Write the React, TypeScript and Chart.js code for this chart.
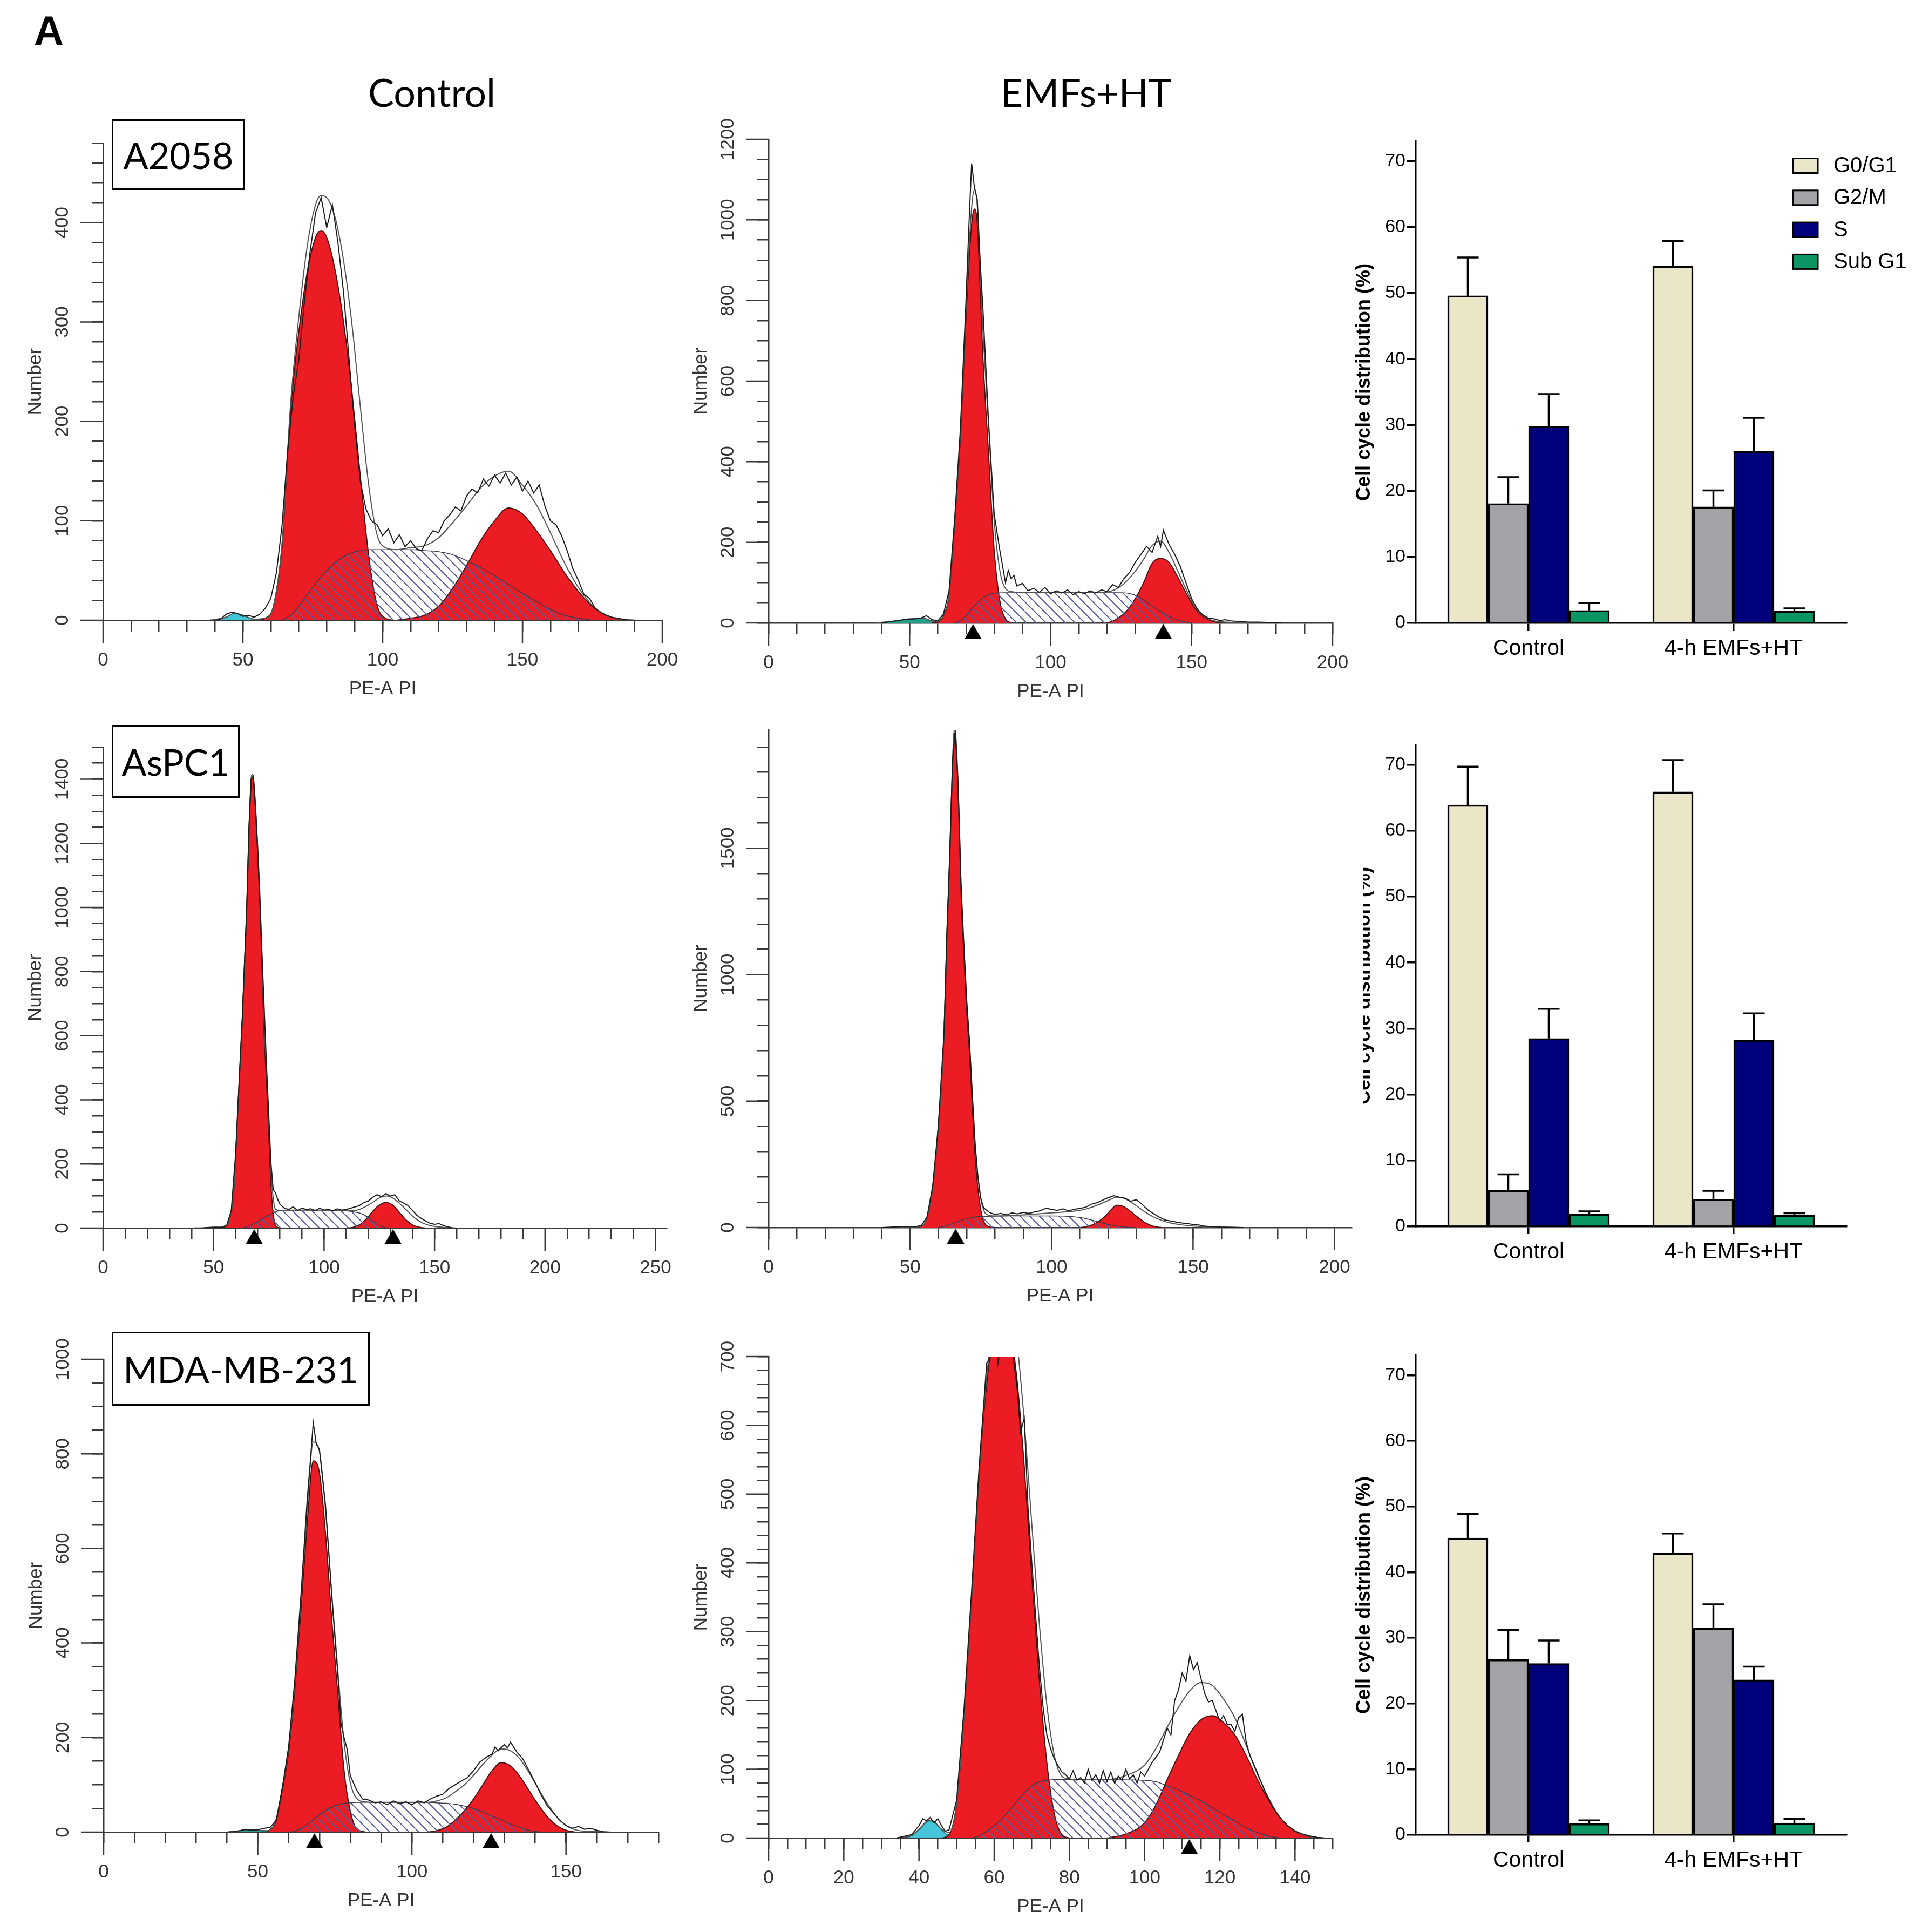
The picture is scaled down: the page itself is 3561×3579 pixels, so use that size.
import { useEffect, useRef } from 'react';
import { Chart, registerables } from 'chart.js';

Chart.register(...registerables);

// ---------- flow cytometry histograms (PE-A PI vs Number), [x, count] ----------

// A2058, control
const a2058CtrlDebris = [[40, 0], [44, 3], [47, 7], [50, 5], [54, 1], [57, 0]];
const a2058CtrlG1 = [[55, 0], [58, 2], [61, 15], [64, 75], [67, 210], [70, 290], [73, 350], [76, 385], [78, 392], [80, 385], [83, 352], [86, 300], [89, 230], [92, 145], [95, 65], [98, 15], [101, 2], [104, 0]];
const a2058CtrlS = [[64, 0], [67, 5], [70, 14], [73, 26], [76, 37], [78, 44], [80, 50], [83, 58], [86, 64], [89, 68], [92, 70], [95, 71], [100, 71], [105, 71], [110, 71], [115, 70], [120, 69], [125, 66], [130, 60], [135, 53], [140, 45], [145, 36], [150, 27], [155, 19], [160, 11], [165, 5], [170, 2], [175, 0]];
const a2058CtrlG2 = [[105, 0], [110, 2], [115, 5], [120, 14], [125, 32], [130, 55], [135, 80], [140, 100], [145, 113], [150, 107], [155, 90], [160, 70], [165, 48], [170, 29], [175, 14], [180, 5], [185, 1], [190, 0]];
const a2058CtrlFit = [[38, 0], [44, 3], [47, 7], [50, 5], [54, 1], [58, 2], [61, 15], [64, 77], [67, 215], [70, 305], [73, 376], [76, 418], [78, 427], [80, 425], [83, 405], [86, 362], [89, 298], [92, 215], [95, 136], [98, 86], [101, 73], [105, 71], [110, 73], [115, 75], [120, 83], [125, 98], [130, 115], [135, 133], [140, 145], [145, 150], [150, 136], [155, 116], [160, 88], [165, 58], [170, 33], [175, 15], [180, 5], [185, 1], [192, 0]];
const a2058CtrlRaw = [[40, 0], [42, 1], [44, 6], [46, 8], [48, 7], [50, 4], [52, 5], [54, 3], [56, 6], [58, 12], [60, 22], [62, 48], [64, 95], [66, 170], [68, 225], [70, 262], [72, 320], [74, 370], [76, 410], [78, 425], [80, 395], [82, 418], [84, 380], [86, 330], [88, 262], [90, 195], [92, 140], [94, 112], [96, 100], [98, 96], [100, 85], [102, 92], [104, 78], [106, 86], [108, 74], [110, 80], [112, 72], [114, 70], [116, 82], [118, 90], [120, 88], [122, 100], [124, 106], [126, 114], [128, 110], [130, 125], [132, 132], [134, 128], [136, 142], [138, 135], [140, 146], [142, 138], [144, 148], [146, 136], [148, 144], [150, 130], [152, 140], [154, 128], [156, 136], [158, 115], [160, 100], [162, 96], [164, 85], [166, 70], [168, 52], [170, 40], [172, 26], [174, 22], [176, 12], [178, 8], [180, 5], [182, 3], [184, 2], [186, 1], [188, 0], [190, 0]];
const a2058CtrlMarks: number[] = [];

// A2058, EMFs+HT
const a2058EmfDebris = [[40, 0], [45, 5], [50, 10], [55, 11], [58, 5], [61, 0]];
const a2058EmfG1 = [[58, 0], [60, 2], [62, 18], [64, 70], [66, 250], [68, 460], [70, 760], [72, 990], [73, 1027], [74, 990], [76, 660], [78, 420], [80, 180], [82, 55], [84, 10], [86, 0]];
const a2058EmfS = [[66, 0], [68, 5], [70, 18], [72, 35], [74, 50], [76, 62], [78, 70], [80, 74], [84, 75], [90, 75], [100, 75], [110, 75], [120, 75], [125, 75], [128, 73], [131, 66], [134, 52], [137, 37], [140, 24], [143, 13], [146, 5], [150, 0]];
const a2058EmfG2 = [[118, 0], [121, 2], [124, 12], [127, 30], [130, 60], [133, 100], [136, 148], [139, 160], [142, 150], [145, 115], [148, 75], [151, 38], [154, 16], [157, 5], [160, 0]];
const a2058EmfFit = [[38, 0], [45, 5], [50, 10], [55, 11], [58, 5], [60, 4], [62, 20], [64, 72], [66, 255], [68, 470], [70, 780], [72, 1030], [73, 1075], [74, 1035], [76, 725], [78, 490], [80, 255], [82, 130], [84, 85], [86, 78], [88, 76], [90, 75], [100, 75], [110, 75], [118, 76], [121, 78], [124, 87], [127, 104], [130, 128], [133, 158], [136, 192], [139, 203], [142, 175], [145, 130], [148, 84], [151, 42], [154, 18], [157, 7], [160, 3], [170, 1], [180, 0]];
const a2058EmfRaw = [[40, 0], [42, 2], [44, 4], [46, 6], [48, 8], [50, 9], [52, 10], [54, 12], [56, 18], [58, 8], [60, 5], [62, 22], [64, 80], [66, 260], [68, 480], [70, 800], [71, 980], [72, 1140], [73, 1080], [74, 1050], [75, 900], [76, 780], [78, 500], [80, 270], [82, 180], [84, 100], [85, 130], [86, 110], [87, 118], [88, 92], [90, 98], [92, 80], [94, 86], [96, 76], [98, 88], [100, 72], [102, 80], [104, 74], [106, 82], [108, 70], [110, 78], [112, 72], [114, 80], [116, 74], [118, 82], [120, 78], [122, 95], [124, 88], [126, 110], [128, 125], [130, 150], [132, 170], [134, 190], [136, 175], [138, 215], [139, 190], [140, 230], [142, 195], [144, 170], [146, 140], [148, 100], [150, 60], [152, 35], [154, 20], [156, 12], [158, 10], [160, 6], [162, 8], [164, 5], [166, 4], [168, 3], [170, 2], [174, 2], [178, 1], [182, 0]];
const a2058EmfMarks = [72.5, 140];

// AsPC1, control
const aspcCtrlG1 = [[53, 0], [56, 8], [58, 50], [59, 99], [60, 230], [61, 370], [62, 510], [63, 650], [64, 820], [65, 990], [66, 1230], [67, 1390], [67.5, 1406], [68, 1395], [69, 1300], [70, 1160], [71, 1010], [72, 800], [73, 590], [74, 450], [75, 290], [76, 130], [77, 45], [78, 8], [80, 0]];
const aspcCtrlS = [[63, 0], [66, 7], [70, 20], [74, 37], [78, 51], [80, 54], [84, 56], [90, 56], [100, 56], [110, 54], [113, 51], [116, 47], [119, 38], [122, 22], [125, 8], [128, 1], [131, 0]];
const aspcCtrlG2 = [[110, 0], [113, 2], [116, 10], [119, 28], [122, 52], [125, 72], [128, 80], [131, 72], [134, 50], [137, 26], [140, 10], [143, 3], [146, 0]];
const aspcCtrlFit = [[50, 0], [56, 8], [58, 50], [59, 99], [60, 230], [61, 370], [62, 512], [63, 653], [64, 825], [65, 997], [66, 1237], [67, 1400], [67.5, 1414], [68, 1405], [69, 1316], [70, 1180], [71, 1034], [72, 828], [73, 622], [74, 487], [75, 331], [76, 175], [77, 93], [78, 59], [80, 55], [84, 56], [90, 56], [100, 56], [110, 55], [113, 54], [116, 58], [119, 68], [122, 80], [125, 94], [128, 100], [131, 94], [134, 78], [137, 58], [140, 38], [143, 22], [146, 12], [150, 5], [155, 2], [160, 0]];
const aspcCtrlRaw = [[40, 0], [45, 1], [50, 3], [54, 3], [56, 10], [58, 55], [60, 235], [61, 380], [62, 520], [63, 660], [64, 830], [65, 1000], [66, 1250], [67, 1400], [68, 1410], [69, 1310], [70, 1180], [72, 840], [74, 500], [76, 200], [77, 120], [78, 110], [79, 90], [80, 75], [82, 62], [84, 58], [86, 66], [88, 55], [90, 62], [92, 58], [94, 60], [96, 54], [98, 62], [100, 56], [102, 58], [104, 54], [106, 60], [108, 56], [110, 58], [112, 62], [114, 66], [116, 70], [118, 80], [120, 84], [122, 96], [124, 104], [126, 98], [128, 108], [130, 100], [132, 104], [134, 85], [136, 78], [138, 70], [140, 55], [142, 40], [144, 30], [146, 22], [148, 15], [150, 12], [152, 14], [154, 8], [156, 4], [158, 1], [160, 0]];
const aspcCtrlMarks = [68.4, 131.2];

// AsPC1, EMFs+HT
const aspcEmfG1 = [[52, 0], [54, 5], [56, 40], [58, 160], [60, 400], [62, 760], [63, 1150], [64, 1450], [65, 1820], [65.6, 1954], [66, 1940], [67, 1720], [68, 1330], [69, 1080], [70, 860], [71, 690], [72, 480], [73, 280], [74, 150], [75, 70], [76, 25], [78, 3], [80, 0]];
const aspcEmfS = [[60, 0], [62, 5], [64, 12], [66, 20], [68, 28], [70, 35], [72, 40], [74, 43], [76, 44], [80, 45], [85, 46], [90, 46], [95, 46], [100, 46], [105, 45], [110, 40], [113, 33], [116, 24], [119, 15], [121, 10], [123, 6], [125, 3], [127, 1], [130, 0]];
const aspcEmfG2 = [[110, 0], [113, 5], [116, 20], [119, 45], [121, 70], [123, 88], [125, 85], [127, 72], [130, 45], [133, 20], [136, 5], [139, 0]];
const aspcEmfFit = [[44, 0], [50, 2], [54, 5], [56, 40], [58, 160], [60, 400], [62, 765], [63, 1158], [64, 1462], [65, 1836], [65.6, 1965], [66, 1960], [67, 1744], [68, 1358], [69, 1112], [70, 895], [71, 728], [72, 520], [73, 322], [74, 193], [75, 114], [76, 69], [78, 48], [80, 46], [85, 47], [90, 50], [95, 54], [100, 58], [105, 62], [110, 68], [113, 76], [116, 88], [119, 102], [121, 112], [123, 120], [125, 118], [127, 108], [130, 86], [133, 62], [136, 42], [139, 28], [142, 18], [145, 12], [150, 6], [155, 3], [160, 1], [170, 0]];
const aspcEmfRaw = [[40, 0], [44, 2], [48, 4], [52, 4], [54, 8], [56, 42], [58, 165], [60, 405], [62, 770], [63, 1160], [64, 1470], [65, 1845], [66, 1965], [67, 1750], [68, 1360], [69, 1120], [70, 900], [71, 735], [72, 525], [73, 330], [74, 200], [75, 115], [76, 78], [78, 60], [80, 52], [82, 56], [84, 50], [86, 58], [88, 54], [90, 60], [92, 56], [94, 62], [96, 66], [98, 76], [100, 72], [102, 68], [104, 74], [106, 66], [108, 72], [110, 76], [112, 80], [114, 92], [116, 98], [118, 108], [120, 118], [122, 126], [124, 120], [126, 116], [128, 104], [130, 110], [132, 92], [134, 70], [136, 55], [138, 42], [140, 30], [142, 26], [144, 22], [146, 18], [148, 16], [150, 12], [152, 10], [154, 6], [156, 4], [160, 2], [164, 1], [168, 0]];
const aspcEmfMarks = [66.1];

// MDA-MB-231, control
const mdaCtrlDebris = [[41, 0], [44, 3], [47, 5], [50, 4], [53, 1], [55, 0]];
const mdaCtrlG1 = [[53, 0], [56, 25], [58, 90], [60, 170], [62, 300], [64, 470], [66, 650], [68, 785], [70, 760], [72, 630], [74, 450], [76, 290], [78, 130], [80, 45], [82, 8], [85, 0]];
const mdaCtrlS = [[60, 0], [62, 2], [64, 8], [66, 16], [68, 26], [70, 36], [72, 46], [74, 53], [76, 58], [78, 61], [80, 62], [85, 63], [95, 63], [105, 63], [108, 62], [111, 61], [114, 59], [117, 55], [120, 50], [123, 43], [126, 34], [129, 26], [132, 17], [135, 10], [138, 4], [141, 1], [144, 0]];
const mdaCtrlG2 = [[105, 0], [108, 3], [111, 10], [114, 25], [117, 45], [120, 70], [123, 100], [126, 130], [129, 147], [132, 140], [135, 118], [138, 88], [141, 58], [144, 32], [147, 14], [150, 4], [153, 0]];
const mdaCtrlFit = [[40, 0], [44, 3], [47, 5], [50, 4], [53, 3], [56, 28], [58, 95], [60, 178], [62, 310], [64, 490], [66, 680], [68, 825], [70, 805], [72, 680], [74, 505], [76, 340], [78, 190], [80, 105], [82, 72], [85, 64], [90, 63], [100, 63], [105, 63], [108, 66], [111, 72], [114, 85], [117, 100], [120, 120], [123, 143], [126, 163], [129, 176], [132, 172], [135, 155], [138, 126], [141, 92], [144, 60], [147, 32], [150, 14], [153, 5], [156, 2], [160, 1], [165, 0]];
const mdaCtrlRaw = [[40, 0], [42, 1], [44, 3], [46, 6], [48, 4], [50, 5], [52, 8], [54, 10], [56, 25], [58, 95], [60, 180], [62, 320], [64, 500], [66, 700], [67, 780], [68, 866], [69, 820], [70, 810], [72, 690], [74, 500], [76, 330], [77, 230], [78, 200], [79, 175], [80, 120], [82, 90], [84, 70], [86, 68], [88, 62], [90, 64], [92, 58], [94, 66], [96, 60], [98, 64], [100, 58], [102, 66], [104, 62], [106, 70], [108, 76], [110, 80], [112, 92], [114, 100], [116, 108], [118, 115], [120, 130], [122, 148], [124, 158], [126, 165], [127, 180], [128, 172], [130, 185], [131, 178], [132, 190], [134, 170], [136, 155], [138, 130], [140, 105], [142, 78], [144, 55], [146, 40], [148, 25], [150, 14], [152, 8], [154, 12], [156, 6], [158, 8], [160, 4], [162, 1], [164, 0]];
const mdaCtrlMarks = [68.4, 125.7];

// MDA-MB-231, EMFs+HT
const mdaEmfDebris = [[36, 0], [38, 3], [40, 12], [42, 23], [43, 25], [44, 23], [46, 12], [48, 3], [50, 0]];
const mdaEmfG1 = [[46, 0], [48, 5], [50, 50], [52, 180], [54, 350], [56, 530], [58, 660], [60, 740], [62, 770], [64, 745], [66, 670], [68, 540], [70, 380], [72, 230], [74, 110], [76, 35], [78, 5], [80, 0]];
const mdaEmfS = [[54, 0], [56, 3], [58, 10], [60, 18], [62, 28], [64, 40], [66, 53], [68, 66], [70, 76], [72, 82], [74, 84], [76, 85], [80, 85], [90, 85], [100, 84], [103, 82], [106, 76], [109, 70], [112, 62], [115, 54], [118, 44], [121, 34], [124, 25], [127, 15], [130, 8], [133, 3], [136, 0]];
const mdaEmfG2 = [[90, 0], [95, 6], [100, 22], [103, 48], [106, 85], [109, 120], [112, 152], [115, 172], [118, 178], [121, 168], [124, 150], [127, 120], [130, 85], [133, 55], [136, 30], [139, 14], [142, 5], [145, 1], [148, 0]];
const mdaEmfFit = [[34, 0], [38, 4], [40, 13], [42, 24], [43, 26], [44, 24], [46, 13], [48, 8], [50, 50], [52, 180], [54, 350], [56, 533], [58, 670], [60, 758], [62, 798], [64, 785], [66, 723], [68, 606], [70, 456], [72, 312], [74, 194], [76, 120], [78, 90], [80, 86], [85, 85], [90, 85], [95, 91], [100, 106], [103, 130], [106, 161], [109, 190], [112, 214], [115, 226], [118, 222], [121, 202], [124, 175], [127, 135], [130, 93], [133, 58], [136, 30], [139, 14], [142, 5], [145, 1], [148, 0]];
const mdaEmfRaw = [[34, 0], [38, 5], [40, 18], [41, 28], [42, 25], [43, 30], [44, 22], [45, 28], [46, 18], [47, 10], [48, 12], [50, 55], [52, 190], [54, 360], [56, 540], [58, 690], [59, 700], [60, 760], [61, 690], [62, 720], [63, 780], [64, 760], [65, 700], [66, 660], [67, 590], [68, 610], [69, 480], [70, 400], [72, 250], [73, 190], [74, 150], [75, 130], [76, 115], [77, 105], [78, 96], [79, 92], [80, 86], [81, 98], [82, 84], [83, 88], [84, 80], [85, 100], [86, 84], [87, 92], [88, 80], [89, 98], [90, 82], [91, 96], [92, 80], [93, 90], [94, 84], [95, 100], [96, 86], [97, 92], [98, 80], [99, 96], [100, 90], [102, 110], [104, 125], [106, 160], [107, 150], [108, 200], [109, 215], [110, 240], [111, 228], [112, 265], [113, 245], [114, 255], [115, 232], [116, 210], [117, 198], [118, 200], [119, 185], [120, 170], [121, 178], [122, 165], [123, 165], [124, 155], [125, 175], [126, 180], [127, 140], [128, 120], [130, 95], [132, 68], [134, 45], [136, 30], [138, 18], [140, 10], [142, 6], [144, 3], [146, 1], [148, 0]];
const mdaEmfMarks = [111.9];

// ---------- cell cycle distribution (%), rows = phase, columns = [Control, 4-h EMFs+HT] ----------
const phaseLabels = ['G0/G1', 'G2/M', 'S', 'Sub G1'];
const groupLabels = ['Control', '4-h EMFs+HT'];
const groupPos = [0, 1];

const a2058Means = [[49.6, 54.1], [18.1, 17.6], [29.8, 26.0], [1.9, 1.8]];
const a2058Sd = [[5.8, 3.8], [4.0, 2.5], [4.9, 5.1], [1.1, 0.4]];
const aspcMeans = [[63.9, 65.9], [5.5, 4.1], [28.5, 28.2], [1.9, 1.7]];
const aspcSd = [[5.8, 4.8], [2.4, 1.3], [4.5, 4.1], [0.4, 0.3]];
const mdaMeans = [[45.2, 42.9], [26.7, 31.5], [26.1, 23.6], [1.7, 1.8]];
const mdaSd = [[3.7, 3.0], [4.5, 3.6], [3.5, 2.0], [0.5, 0.6]];

const phaseColors = ['#ece6c9', '#a3a2a7', '#00007a', '#0b9563'];

const SANS = '"Liberation Sans", Arial, Helvetica, sans-serif';
const LABEL_FONT = 'Lato, "Open Sans", sans-serif';
const AX = '#3a3a3a';
const TXT = '#333';

type Box = { left: number; top: number; right: number; bottom: number };
type Hist = {
  debris?: number[][];
  g1: number[][];
  s: number[][];
  g2: number[][];
  fit: number[][];
  raw: number[][];
  marks: number[];
  xMax: number;
  xMinor: number;
  xLabel: number;
  yMax: number;
  yMinor: number;
  yLabel: number;
  debrisColor?: string;
};

const toPts = (arr: number[][]) => arr.map(([x, y]) => ({ x, y }));

function makeHatch(ctx: CanvasRenderingContext2D) {
  const t = document.createElement('canvas');
  t.width = 18;
  t.height = 18;
  const c = t.getContext('2d')!;
  c.strokeStyle = '#565c9c';
  c.lineWidth = 2;
  c.beginPath();
  c.moveTo(-2, -2);
  c.lineTo(20, 20);
  c.moveTo(-2, 16);
  c.lineTo(2, 20);
  c.moveTo(16, -2);
  c.lineTo(20, 2);
  c.stroke();
  return ctx.createPattern(t, 'repeat');
}

function makeTriangle() {
  const t = document.createElement('canvas');
  t.width = 36;
  t.height = 66;
  const c = t.getContext('2d')!;
  c.fillStyle = '#000';
  c.beginPath();
  c.moveTo(18, 35);
  c.lineTo(34, 63);
  c.lineTo(2, 63);
  c.closePath();
  c.fill();
  return t;
}

const Y_W = 190;
const X_H = 160;
const PAD_T = 60;
const PAD_R = 50;
const MINOR_TICK = 21;
const MAJOR_TICK = 42;
const HFONT = 35;

function HistogramPanel({ h, box }: { h: Hist; box: Box }) {
  const canvasRef = useRef(null as HTMLCanvasElement | null);
  const chartRef = useRef(null as any);
  const width = box.right - box.left + Y_W + PAD_R;
  const height = box.bottom - box.top + PAD_T + X_H;

  useEffect(() => {
    if (!canvasRef.current) return;
    const ctx = canvasRef.current.getContext('2d');
    if (!ctx) return;
    if (chartRef.current) chartRef.current.destroy();

    const red = {
      backgroundColor: '#ec1c24',
      borderColor: '#4a0d0d',
      borderWidth: 2,
      fill: 'origin',
      pointRadius: 0,
      cubicInterpolationMode: 'monotone',
    };

    const datasets: any[] = [
      {
        data: h.marks.map((x) => ({ x, y: 0 })),
        showLine: false,
        pointStyle: makeTriangle(),
        pointRadius: 10,
        clip: false,
        order: 0,
      },
      { data: toPts(h.raw), borderColor: '#1c1c1c', borderWidth: 2, pointRadius: 0, fill: false, tension: 0, order: 1 },
      { data: toPts(h.fit), borderColor: '#555', borderWidth: 2, pointRadius: 0, fill: false, cubicInterpolationMode: 'monotone', order: 2 },
      {
        data: toPts(h.s),
        borderColor: '#3a3a48',
        borderWidth: 1.5,
        backgroundColor: makeHatch(ctx),
        fill: 'origin',
        pointRadius: 0,
        cubicInterpolationMode: 'monotone',
        order: 3,
      },
      { ...red, data: toPts(h.g2), order: 4 },
      { ...red, data: toPts(h.g1), order: 5 },
    ];
    if (h.debris) {
      datasets.push({
        data: toPts(h.debris),
        backgroundColor: h.debrisColor,
        borderColor: '#1d5f66',
        borderWidth: 1.5,
        fill: 'origin',
        pointRadius: 0,
        cubicInterpolationMode: 'monotone',
        order: 6,
      });
    }

    // longer marks on the labelled ticks, rotated y labels
    const axisDecor = {
      id: 'axisDecor',
      beforeDatasetsDraw(chart: any) {
        const c = chart.ctx;
        const area = chart.chartArea;
        const xs = chart.scales.x;
        const ys = chart.scales.y;
        c.save();
        c.strokeStyle = AX;
        c.lineWidth = 2.5;
        c.beginPath();
        xs.ticks.forEach((t: any) => {
          if (t.value % h.xLabel !== 0) return;
          const px = xs.getPixelForValue(t.value);
          c.moveTo(px, area.bottom);
          c.lineTo(px, area.bottom + MAJOR_TICK);
        });
        ys.ticks.forEach((t: any) => {
          if (t.value % h.yLabel !== 0) return;
          const py = ys.getPixelForValue(t.value);
          c.moveTo(area.left, py);
          c.lineTo(area.left - MAJOR_TICK, py);
        });
        c.stroke();
        c.restore();
      },
      afterDraw(chart: any) {
        const s = chart.scales.y;
        const c = chart.ctx;
        c.save();
        c.fillStyle = TXT;
        c.font = `${HFONT}px ${SANS}`;
        c.textAlign = 'center';
        c.textBaseline = 'middle';
        s.ticks.forEach((t: any) => {
          if (t.value % h.yLabel !== 0) return;
          c.save();
          c.translate(chart.chartArea.left - 75, s.getPixelForValue(t.value));
          c.rotate(-Math.PI / 2);
          c.fillText(String(t.value), 0, 0);
          c.restore();
        });
        c.restore();
      },
    };

    chartRef.current = new Chart(ctx, {
      type: 'line',
      data: { datasets },
      options: {
        animation: false,
        responsive: false,
        devicePixelRatio: 1,
        events: [],
        layout: { padding: { top: PAD_T, right: PAD_R, left: 0, bottom: 0 } },
        plugins: { legend: { display: false }, tooltip: { enabled: false } },
        scales: {
          x: {
            type: 'linear',
            min: 0,
            max: h.xMax,
            afterFit: (s: any) => {
              s.height = X_H;
              s.paddingLeft = 0;
              s.paddingRight = 0;
            },
            border: { display: true, color: AX, width: 2.5 },
            grid: { drawOnChartArea: false, drawTicks: true, tickLength: MINOR_TICK, color: AX, lineWidth: 2.5 },
            ticks: {
              stepSize: h.xMinor,
              autoSkip: false,
              includeBounds: false,
              maxRotation: 0,
              minRotation: 0,
              padding: 32,
              color: TXT,
              font: { family: SANS, size: HFONT },
              callback: (v: any) => (Number(v) % h.xLabel === 0 ? String(v) : ''),
            },
            title: { display: true, text: 'PE-A PI', color: TXT, font: { family: SANS, size: HFONT }, padding: { top: 0, bottom: 12 } },
          },
          y: {
            type: 'linear',
            min: 0,
            max: h.yMax,
            afterFit: (s: any) => {
              s.width = Y_W;
              s.paddingTop = 0;
              s.paddingBottom = 0;
            },
            border: { display: true, color: AX, width: 2.5 },
            grid: { drawOnChartArea: false, drawTicks: true, tickLength: MINOR_TICK, color: AX, lineWidth: 2.5 },
            ticks: { stepSize: h.yMinor, autoSkip: false, includeBounds: false, display: false },
            title: { display: true, text: 'Number', color: TXT, font: { family: SANS, size: HFONT }, padding: { top: 44, bottom: 0 } },
          },
        },
      } as any,
      plugins: [axisDecor],
    });

    return () => {
      if (chartRef.current) {
        chartRef.current.destroy();
        chartRef.current = null;
      }
    };
  }, [h, box]);

  return (
    <canvas
      ref={canvasRef}
      width={width}
      height={height}
      style={{ position: 'absolute', left: box.left - Y_W, top: box.top - PAD_T, width, height }}
    />
  );
}

const B_W = 150;
const B_T = 40;
const B_H = 90;
const PAGE_W = 3561;

function CyclePanel({ means, sds, box, legend }: { means: number[][]; sds: number[][]; box: Box; legend?: boolean }) {
  const canvasRef = useRef(null as HTMLCanvasElement | null);
  const chartRef = useRef(null as any);
  const padR = PAGE_W - box.right;
  const width = PAGE_W - box.left + B_W;
  const height = box.bottom - box.top + B_T + B_H;

  useEffect(() => {
    if (!canvasRef.current) return;
    const ctx = canvasRef.current.getContext('2d');
    if (!ctx) return;
    if (chartRef.current) chartRef.current.destroy();

    const errorBars = {
      id: 'errorBars',
      afterDatasetsDraw(chart: any) {
        const c = chart.ctx;
        const ys = chart.scales.y;
        c.save();
        c.strokeStyle = '#000';
        c.lineWidth = 3.5;
        chart.data.datasets.forEach((ds: any, p: number) => {
          chart.getDatasetMeta(p).data.forEach((bar: any, g: number) => {
            const top = ys.getPixelForValue(ds.data[g].y + sds[p][g]);
            c.beginPath();
            c.moveTo(bar.x, bar.y);
            c.lineTo(bar.x, top);
            c.moveTo(bar.x - 20, top);
            c.lineTo(bar.x + 20, top);
            c.stroke();
          });
        });
        c.restore();
      },
    };

    const cycleLegend = {
      id: 'cycleLegend',
      afterDraw(chart: any) {
        if (!legend) return;
        const c = chart.ctx;
        const area = chart.chartArea;
        c.save();
        c.font = `40px ${SANS}`;
        c.textBaseline = 'middle';
        c.textAlign = 'left';
        chart.data.datasets.forEach((ds: any, i: number) => {
          const cy = area.top + 45 + i * 59.3;
          const x0 = area.right - 99;
          c.fillStyle = ds.backgroundColor;
          c.fillRect(x0, cy - 13.5, 46, 27);
          c.lineWidth = 3;
          c.strokeStyle = '#000';
          c.strokeRect(x0, cy - 13.5, 46, 27);
          c.fillStyle = '#000';
          c.fillText(ds.label, x0 + 75, cy + 1);
        });
        c.restore();
      },
    };

    chartRef.current = new Chart(ctx, {
      type: 'bar',
      data: {
        datasets: phaseLabels.map((label, p) => ({
          label,
          data: groupPos.map((x, g) => ({ x, y: means[p][g] })),
          backgroundColor: phaseColors[p],
          borderColor: '#000',
          borderWidth: 3.5,
          barThickness: 75,
        })),
      },
      options: {
        animation: false,
        responsive: false,
        devicePixelRatio: 1,
        events: [],
        layout: { padding: { top: B_T, right: padR, left: 0, bottom: 0 } },
        plugins: { legend: { display: false }, tooltip: { enabled: false } },
        scales: {
          x: {
            type: 'linear',
            min: -0.55,
            max: 1.55,
            offset: false,
            afterFit: (s: any) => {
              s.height = B_H;
              s.paddingLeft = 0;
              s.paddingRight = 0;
            },
            border: { display: true, color: '#000', width: 3.5 },
            grid: { offset: false, drawOnChartArea: false, drawTicks: true, tickLength: 14, color: '#000', lineWidth: 3.5 },
            ticks: {
              stepSize: 1,
              autoSkip: false,
              includeBounds: false,
              maxRotation: 0,
              padding: 9,
              color: '#000',
              font: { family: SANS, size: 41 },
              callback: (v: any) => groupLabels[Number(v)] ?? '',
            },
          },
          y: {
            type: 'linear',
            min: 0,
            max: 73,
            afterFit: (s: any) => {
              s.width = B_W;
            },
            border: { display: true, color: '#000', width: 3.5 },
            grid: { drawOnChartArea: false, drawTicks: true, tickLength: 16, color: '#000', lineWidth: 3.5 },
            ticks: { stepSize: 10, includeBounds: false, padding: 3, color: '#000', font: { family: SANS, size: 34 } },
            title: {
              display: true,
              text: 'Cell cycle distribution (%)',
              color: '#000',
              font: { family: SANS, size: 36, weight: 'bold' },
              padding: { top: 33, bottom: 0 },
            },
          },
        },
      } as any,
      plugins: [errorBars, cycleLegend],
    });

    return () => {
      if (chartRef.current) {
        chartRef.current.destroy();
        chartRef.current = null;
      }
    };
  }, [means, sds, box, legend]);

  return (
    <canvas
      ref={canvasRef}
      width={width}
      height={height}
      style={{ position: 'absolute', left: box.left - B_W, top: box.top - B_T, width, height }}
    />
  );
}

const a2058Ctrl: Hist = {
  debris: a2058CtrlDebris, g1: a2058CtrlG1, s: a2058CtrlS, g2: a2058CtrlG2, fit: a2058CtrlFit, raw: a2058CtrlRaw, marks: a2058CtrlMarks,
  xMax: 200, xMinor: 10, xLabel: 50, yMax: 480, yMinor: 20, yLabel: 100, debrisColor: '#40c4d8',
};
const a2058Emf: Hist = {
  debris: a2058EmfDebris, g1: a2058EmfG1, s: a2058EmfS, g2: a2058EmfG2, fit: a2058EmfFit, raw: a2058EmfRaw, marks: a2058EmfMarks,
  xMax: 200, xMinor: 10, xLabel: 50, yMax: 1200, yMinor: 50, yLabel: 200, debrisColor: '#21a08c',
};
const aspcCtrl: Hist = {
  g1: aspcCtrlG1, s: aspcCtrlS, g2: aspcCtrlG2, fit: aspcCtrlFit, raw: aspcCtrlRaw, marks: aspcCtrlMarks,
  xMax: 255, xMinor: 10, xLabel: 50, yMax: 1500, yMinor: 50, yLabel: 200,
};
const aspcEmf: Hist = {
  g1: aspcEmfG1, s: aspcEmfS, g2: aspcEmfG2, fit: aspcEmfFit, raw: aspcEmfRaw, marks: aspcEmfMarks,
  xMax: 206, xMinor: 10, xLabel: 50, yMax: 1970, yMinor: 100, yLabel: 500,
};
const mdaCtrl: Hist = {
  debris: mdaCtrlDebris, g1: mdaCtrlG1, s: mdaCtrlS, g2: mdaCtrlG2, fit: mdaCtrlFit, raw: mdaCtrlRaw, marks: mdaCtrlMarks,
  xMax: 180, xMinor: 10, xLabel: 50, yMax: 1000, yMinor: 50, yLabel: 200, debrisColor: '#21a08c',
};
const mdaEmf: Hist = {
  debris: mdaEmfDebris, g1: mdaEmfG1, s: mdaEmfS, g2: mdaEmfG2, fit: mdaEmfFit, raw: mdaEmfRaw, marks: mdaEmfMarks,
  xMax: 150, xMinor: 5, xLabel: 20, yMax: 700, yMinor: 20, yLabel: 100, debrisColor: '#45c6da',
};

// plot-area frames in page pixels
const boxA1: Box = { left: 191, top: 265, right: 1227, bottom: 1149 };
const boxA2: Box = { left: 1424, top: 258, right: 2469, bottom: 1154 };
const boxA3: Box = { left: 2623, top: 262, right: 3421, bottom: 1154 };
const boxB1: Box = { left: 191, top: 1384, right: 1235, bottom: 2275 };
const boxB2: Box = { left: 1424, top: 1351, right: 2504, bottom: 2274 };
const boxB3: Box = { left: 2623, top: 1380, right: 3421, bottom: 2272 };
const boxC1: Box = { left: 192, top: 2518, right: 1220, bottom: 3394 };
const boxC2: Box = { left: 1424, top: 2513, right: 2469, bottom: 3405 };
const boxC3: Box = { left: 2623, top: 2511, right: 3421, bottom: 3399 };

function CellTag({ text, left, top, width, height }: { text: string; left: number; top: number; width: number; height: number }) {
  return (
    <div
      style={{
        position: 'absolute',
        left,
        top,
        width,
        height,
        boxSizing: 'border-box',
        border: '3px solid #000',
        background: '#fff',
        display: 'flex',
        alignItems: 'center',
        justifyContent: 'center',
        fontFamily: LABEL_FONT,
        fontSize: 68,
        color: '#000',
        zIndex: 3,
      }}
    >
      {text}
    </div>
  );
}

export default function App() {
  const head = {
    position: 'absolute' as const,
    top: 130,
    width: 500,
    textAlign: 'center' as const,
    fontFamily: LABEL_FONT,
    fontSize: 72,
    lineHeight: '80px',
    color: '#000',
  };
  return (
    <div style={{ position: 'absolute', left: 0, top: 0, width: 3561, height: 3579, background: '#fff', overflow: 'hidden' }}>
      <div style={{ position: 'absolute', left: 63, top: 19, fontFamily: SANS, fontWeight: 'bold', fontSize: 76, lineHeight: '76px', color: '#000' }}>A</div>
      <div style={{ ...head, left: 550 }}>Control</div>
      <div style={{ ...head, left: 1762 }}>EMFs+HT</div>

      <HistogramPanel h={a2058Ctrl} box={boxA1} />
      <HistogramPanel h={a2058Emf} box={boxA2} />
      <CyclePanel means={a2058Means} sds={a2058Sd} box={boxA3} legend />

      <HistogramPanel h={aspcCtrl} box={boxB1} />
      <HistogramPanel h={aspcEmf} box={boxB2} />
      <CyclePanel means={aspcMeans} sds={aspcSd} box={boxB3} />

      <HistogramPanel h={mdaCtrl} box={boxC1} />
      <HistogramPanel h={mdaEmf} box={boxC2} />
      <CyclePanel means={mdaMeans} sds={mdaSd} box={boxC3} />

      <CellTag text="A2058" left={207} top={221} width={247} height={131} />
      <CellTag text="AsPC1" left={207} top={1343} width={237} height={135} />
      <CellTag text="MDA-MB-231" left={207} top={2467} width={478} height={137} />

      <div style={{ position: 'absolute', left: 2478, top: 1575, width: 47, height: 490, background: '#fff', zIndex: 2 }} />
    </div>
  );
}
